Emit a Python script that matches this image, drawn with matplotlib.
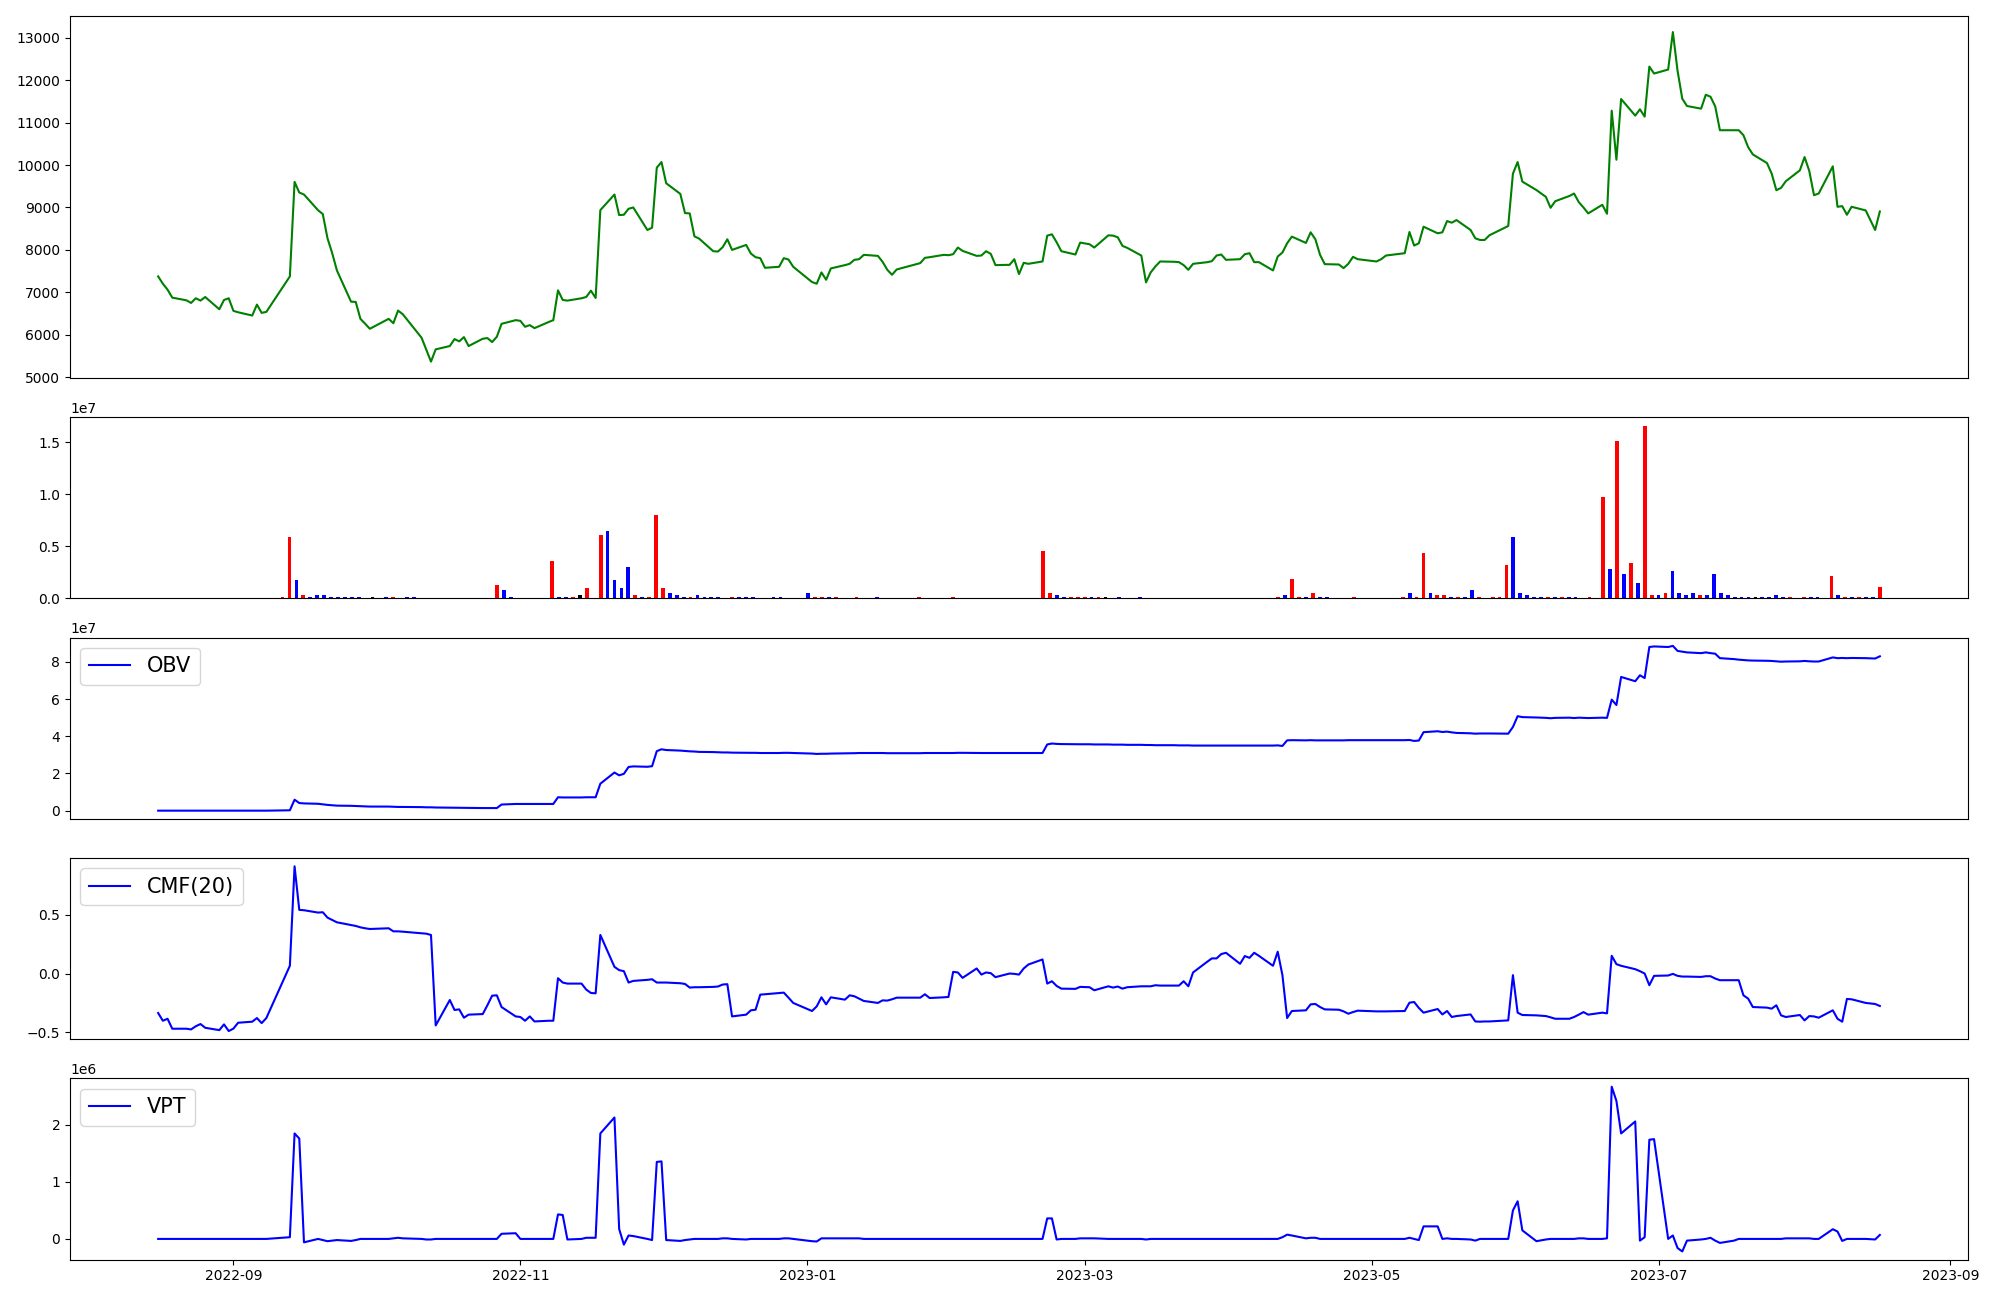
import matplotlib
matplotlib.use("Agg")
import matplotlib.pyplot as plt
import matplotlib.dates as mdates
import numpy as np
import pandas as pd

# trading days (KRX calendar)
holidays = ["2022-09-09", "2022-09-12", "2022-10-03", "2022-10-10", "2022-12-30",
            "2023-01-23", "2023-01-24", "2023-03-01", "2023-05-01", "2023-05-05",
            "2023-05-29", "2023-06-06", "2023-08-15"]
dates = pd.bdate_range("2022-08-16", "2023-08-17")
dates = dates[~dates.isin(pd.to_datetime(holidays))]

# close price, month by month
close_aug22 = [7375, 7203, 7063, 6875, 6812, 6750, 6860, 6805, 6890, 6601, 6820, 6860]
close_sep22 = [6563, 6530, 6453, 6711, 6516, 6539, 7375, 9602, 9352, 9305,
               8934, 8844, 8273, 7922, 7516, 6781, 6773, 6375, 6260, 6141]
close_oct22 = [6375, 6273, 6570, 6484, 5930, 5650, 5367, 5656, 5734, 5898,
               5844, 5945, 5734, 5906, 5922, 5828, 5953, 6258, 6344]
close_nov22 = [6328, 6188, 6227, 6156, 6300, 6344, 7047, 6820, 6805, 6860, 6890,
               7039, 6867, 8937, 9305, 8820, 8828, 8969, 9000, 8469, 8523, 9938]
close_dec22 = [10070, 9570, 9320, 8867, 8860, 8320, 8266, 7969, 7961, 8063, 8250,
               8000, 8117, 7914, 7828, 7805, 7578, 7602, 7805, 7773, 7602]
close_jan23 = [7242, 7203, 7469, 7297, 7563, 7641, 7672, 7766, 7781, 7883,
               7859, 7719, 7531, 7414, 7539, 7688, 7813, 7828, 7883, 7875]
close_feb23 = [7898, 8055, 7977, 7859, 7867, 7969, 7906, 7641, 7648, 7781,
               7430, 7695, 7672, 7727, 8336, 8367, 8180, 7969, 7891, 8172]
close_mar23 = [8133, 8055, 8344, 8336, 8297, 8094, 8048, 7867, 7234, 7469, 7610,
               7727, 7720, 7711, 7641, 7531, 7672, 7710, 7734, 7867, 7891, 7766]
close_apr23 = [7781, 7898, 7922, 7711, 7711, 7516, 7844, 7938, 8156, 8313,
               8164, 8414, 8250, 7883, 7664, 7656, 7570, 7672, 7836, 7781]
close_may23 = [7727, 7781, 7867, 7922, 8422, 8102, 8156, 8547, 8391, 8414,
               8680, 8641, 8703, 8469, 8273, 8234, 8234, 8344, 8563, 9797]
close_jun23 = [10070, 9609, 9410, 9250, 8992, 9148, 9270, 9328, 9125, 9000, 8860,
               9063, 8852, 11281, 10125, 11555, 11164, 11313, 11141, 12320, 12156]
close_jul23 = [12250, 13133, 12219, 11563, 11391, 11328, 11656, 11609, 11383, 10820, 10820,
               10820, 10703, 10422, 10250, 10047, 9800, 9406, 9461, 9617, 9875]
close_aug23 = [10188, 9859, 9289, 9328, 9969, 9016, 9031, 8828, 9016, 8930, 8469, 8906]

# volume (millions) and bar colour codes r/b/k
vol_aug22 = [0] * 12
vol_sep22 = [0, 0, 0, 0, 0, 0, 0.19, 5.93, 1.82, 0.38, 0.19, 0.29, 0.29, 0.19, 0.10,
             0.19, 0.10, 0.10, 0, 0.10]
vol_oct22 = [0, 0.19, 0.19, 0, 0.10, 0.10, 0, 0, 0, 0, 0, 0, 0, 0, 0, 0, 0, 1.34, 0.77]
vol_nov22 = [0.10, 0, 0, 0, 0, 0, 3.64, 0.19, 0.10, 0.10, 0.29, 0.96, 0, 6.13, 6.51,
             1.82, 1.05, 3.06, 0.29, 0.19, 0.19, 8.04]
vol_dec22 = [0.96, 0.48, 0.29, 0.10, 0.19, 0.29, 0.10, 0.10, 0.10, 0, 0.10, 0.10,
             0.19, 0.10, 0, 0, 0.10, 0.10, 0, 0, 0]
vol_jan23 = [0.57, 0.10, 0.19, 0.10, 0.10, 0, 0, 0.19, 0, 0, 0.10, 0, 0, 0, 0, 0,
             0.10, 0, 0, 0]
vol_feb23 = [0, 0.10, 0, 0, 0, 0, 0, 0, 0, 0, 0, 0, 0, 0, 4.59, 0.48, 0.29, 0.10, 0.10, 0.10]
vol_mar23 = [0.10, 0.10, 0.19, 0.19, 0, 0.10, 0, 0, 0.10, 0, 0, 0, 0, 0, 0, 0, 0, 0,
             0, 0, 0, 0]
vol_apr23 = [0, 0, 0, 0, 0, 0, 0.10, 0.29, 1.91, 0.19, 0.10, 0.48, 0.10, 0.10, 0, 0, 0,
             0.10, 0, 0]
vol_may23 = [0, 0, 0, 0, 0.10, 0.48, 0.19, 4.40, 0.57, 0.38, 0.29, 0.19, 0.10, 0.10,
             0.86, 0.10, 0, 0.19, 0.10, 3.25]
vol_jun23 = [5.93, 0.57, 0.29, 0.19, 0.19, 0.19, 0.19, 0.19, 0.19, 0.10, 0, 0.19, 0,
             9.76, 2.87, 15.1, 2.39, 3.45, 1.53, 16.56, 0.38]
vol_jul23 = [0.29, 0.57, 2.68, 0.57, 0.38, 0.57, 0.38, 0.38, 2.39, 0.48, 0.29, 0.19,
             0.19, 0.10, 0.10, 0.19, 0.10, 0.29, 0.19, 0.10, 0]
vol_aug23 = [0.10, 0.10, 0.10, 0, 2.20, 0.38, 0.10, 0.10, 0.10, 0.19, 0.10, 1.15]

col_codes = ("bbbbbbbbbbbb"
             "bbbbbbrrbrbbbbbbbbbk"
             "bbrbbbbbbbbbbbbbbrb"
             "bbbbbbrbbrkrbrbbbbrbrr"
             "rbbbrbbbbbrbbbbbbbbbb"
             "brrbrbbrbbbbbbbbrbbb"
             "brbbbbbbbbbbbbrrbbrr"
             "rbrkbbbbbbbbbbbbbbbbbb"
             "bbbbbbrbrrbrbbbbbrbb"
             "bbbbrbrrbrrbrbbrbrrr"
             "bbbbbrbrbbbrbrbrbrbrr"
             "brbbbbrbbbbbbbkbbbbrb"
             "rbbbrbrbrbbr")

# OBV (millions)
obv_aug22 = [0] * 12
obv_sep22 = [0, 0, 0, 0, 0, 0, 0.2, 5.9, 4.1, 3.9, 3.7, 3.4, 3.1, 2.9, 2.7, 2.6, 2.5,
             2.4, 2.3, 2.2]
obv_oct22 = [2.2, 2.1, 2.0, 2.0, 1.9, 1.8, 1.8, 1.7, 1.6, 1.6, 1.5, 1.5, 1.5, 1.4, 1.4,
             1.4, 1.4, 3.3, 3.6]
obv_nov22 = [3.6, 3.6, 3.6, 3.6, 3.6, 3.6, 7.2, 7.1, 7.1, 7.1, 7.2, 7.2, 7.2, 14.5, 20.5,
             19.0, 19.8, 23.5, 23.8, 23.6, 23.9, 32.0]
obv_dec22 = [33.0, 32.6, 32.3, 32.1, 31.9, 31.8, 31.6, 31.5, 31.4, 31.3, 31.3, 31.2,
             31.1, 31.1, 31.1, 31.0, 31.0, 31.0, 31.1, 31.1, 31.0]
obv_jan23 = [30.7, 30.5, 30.6, 30.6, 30.7, 30.8, 30.8, 30.9, 31.0, 31.0, 31.0, 31.0,
             30.9, 30.9, 30.9, 30.9, 31.0, 31.0, 31.0, 31.0]
obv_feb23 = [31.0, 31.1, 31.1, 31.0, 31.0, 31.0, 31.0, 31.0, 31.0, 31.0, 31.0, 31.0,
             31.0, 31.0, 35.6, 36.1, 35.9, 35.8, 35.7, 35.7]
obv_mar23 = [35.7, 35.6, 35.6, 35.5, 35.5, 35.5, 35.4, 35.4, 35.3, 35.3, 35.2, 35.2,
             35.2, 35.1, 35.1, 35.1, 35.0, 35.0, 35.0, 35.0, 35.0, 35.0]
obv_apr23 = [35.0, 35.0, 35.0, 35.0, 35.0, 35.0, 35.1, 34.8, 37.8, 37.9, 37.8, 37.9,
             37.8, 37.8, 37.8, 37.8, 37.8, 37.9, 37.9, 37.9]
obv_may23 = [37.9, 37.9, 37.9, 37.9, 38.0, 37.5, 37.7, 42.2, 42.7, 42.3, 42.5, 42.1,
             41.8, 41.6, 41.4, 41.5, 41.5, 41.5, 41.4, 45.0]
obv_jun23 = [50.8, 50.3, 50.1, 49.9, 49.7, 49.9, 50.0, 49.8, 50.0, 49.9, 49.8, 50.0,
             49.9, 59.7, 56.8, 71.9, 69.6, 72.8, 71.3, 88.0, 88.3]
obv_jul23 = [88.0, 88.6, 85.9, 85.5, 85.1, 84.7, 85.1, 84.7, 84.4, 82.0, 81.5, 81.2,
             81.0, 80.8, 80.7, 80.6, 80.5, 80.3, 80.1, 80.2, 80.3]
obv_aug23 = [80.5, 80.3, 80.2, 80.2, 82.4, 82.0, 82.1, 82.0, 82.1, 82.0, 81.8, 83.0]

# CMF(20)
cmf_aug22 = [-0.337, -0.403, -0.386, -0.471, -0.471, -0.477, -0.45, -0.431, -0.463,
             -0.483, -0.434, -0.491]
cmf_sep22 = [-0.47, -0.42, -0.411, -0.38, -0.423, -0.38, 0.066, 0.915, 0.543, 0.54,
             0.52, 0.523, 0.477, 0.457, 0.437, 0.414, 0.406, 0.394, 0.386, 0.38]
cmf_oct22 = [0.386, 0.36, 0.36, 0.357, 0.343, 0.34, 0.329, -0.443, -0.226, -0.311,
             -0.306, -0.377, -0.351, -0.346, -0.27, -0.189, -0.186, -0.286, -0.366]
cmf_nov22 = [-0.371, -0.403, -0.366, -0.409, -0.403, -0.403, -0.04, -0.077, -0.086,
             -0.086, -0.137, -0.166, -0.169, 0.329, 0.057, 0.029, 0.02, -0.077, -0.063,
             -0.054, -0.049, -0.077]
cmf_dec22 = [-0.077, -0.077, -0.083, -0.089, -0.12, -0.117, -0.117, -0.114, -0.111,
             -0.094, -0.091, -0.366, -0.351, -0.314, -0.309, -0.18, -0.177, -0.166,
             -0.163, -0.206, -0.251]
cmf_jan23 = [-0.32, -0.28, -0.203, -0.263, -0.203, -0.223, -0.186, -0.194, -0.214,
             -0.234, -0.251, -0.229, -0.231, -0.22, -0.206, -0.206, -0.177, -0.209,
             -0.203, -0.2]
cmf_feb23 = [0.014, 0.009, -0.037, 0.043, -0.009, 0.009, 0.003, -0.031, 0.0, -0.003,
             -0.009, 0.043, 0.077, 0.12, -0.086, -0.066, -0.106, -0.129, -0.131, -0.114]
cmf_mar23 = [-0.117, -0.143, -0.109, -0.12, -0.111, -0.129, -0.117, -0.109, -0.109,
             -0.109, -0.1, -0.103, -0.103, -0.103, -0.066, -0.109, 0.009, 0.1, 0.129,
             0.129, 0.166, 0.177]
cmf_apr23 = [0.083, 0.149, 0.134, 0.177, 0.151, 0.066, 0.186, -0.014, -0.38, -0.32,
             -0.314, -0.263, -0.26, -0.286, -0.306, -0.309, -0.323, -0.343, -0.329, -0.317]
cmf_may23 = [-0.323, -0.323, -0.323, -0.32, -0.249, -0.243, -0.294, -0.334, -0.303,
             -0.349, -0.32, -0.371, -0.363, -0.349, -0.409, -0.411, -0.409, -0.409,
             -0.4, -0.014]
cmf_jun23 = [-0.334, -0.354, -0.357, -0.363, -0.374, -0.386, -0.386, -0.371, -0.351,
             -0.329, -0.351, -0.334, -0.34, 0.151, 0.08, 0.066, 0.037, 0.02, 0.0, -0.1, -0.02]
cmf_jul23 = [-0.017, -0.003, -0.02, -0.026, -0.026, -0.029, -0.023, -0.023, -0.043,
             -0.057, -0.057, -0.057, -0.186, -0.214, -0.286, -0.291, -0.3, -0.271,
             -0.357, -0.371, -0.354]
cmf_aug23 = [-0.4, -0.363, -0.366, -0.377, -0.314, -0.386, -0.411, -0.217, -0.22,
             -0.251, -0.26, -0.277]

# VPT (millions)
vpt_aug22 = [0] * 12
vpt_sep22 = [0, 0, 0, 0, 0, 0, 0.03, 1.85, 1.76, -0.06, 0.0, -0.02, -0.04, -0.03, -0.02,
             -0.035, -0.02, 0.0, 0.0, 0.0]
vpt_oct22 = [0.0, 0.01, 0.02, 0.01, 0.0, -0.01, -0.01, 0.0, 0.0, 0.0, 0.0, 0.0, 0.0,
             0.0, 0.0, 0.0, 0.0, 0.09, 0.1]
vpt_nov22 = [0.0, 0.0, 0.0, 0.0, 0.0, 0.0, 0.43, 0.42, -0.01, 0.0, 0.02, 0.02, 0.02,
             1.85, 2.13, 0.175, -0.1, 0.06, 0.05, 0.0, -0.02, 1.35]
vpt_dec22 = [1.36, -0.02, -0.035, -0.02, -0.01, 0.0, 0.0, 0.0, 0.0, 0.01, 0.01, 0.0,
             -0.01, 0.0, 0.0, 0.0, 0.0, 0.0, 0.01, 0.01, 0.0]
vpt_jan23 = [-0.04, -0.045, 0.01, 0.01, 0.01, 0.01, 0.01, 0.01, 0.01, 0.0, 0.0, 0.0,
             0.0, 0.0, 0.0, 0.0, 0.0, 0.0, 0.0, 0.0]
vpt_feb23 = [0, 0, 0, 0, 0, 0, 0, 0, 0, 0, 0, 0, 0, 0, 0.36, 0.36, -0.01, 0.0, 0.0, 0.01]
vpt_mar23 = [0.01, 0.01, 0.0, 0.0, 0.0, 0.0, 0.0, 0.0, -0.01, 0.0, 0.0, 0.0, 0.0, 0.0,
             0.0, 0.0, 0.0, 0.0, 0.0, 0.0, 0.0, 0.0]
vpt_apr23 = [0, 0, 0, 0, 0, 0, 0, 0.03, 0.075, 0.06, 0.01, 0.02, 0.02, 0.0, 0, 0, 0, 0, 0, 0]
vpt_may23 = [0.0, 0.0, 0.0, 0.0, 0.02, 0.0, -0.02, 0.22, 0.22, 0.0, 0.01, 0.0, 0.0,
             -0.01, -0.03, 0.0, 0.0, 0.0, 0.0, 0.5]
vpt_jun23 = [0.66, 0.15, -0.04, -0.01, 0.0, 0.0, 0.0, 0.0, 0.01, 0.01, 0.0, 0.0, 0.01,
             2.67, 2.42, 1.85, 2.06, -0.03, 0.03, 1.74, 1.75]
vpt_jul23 = [0.0, 0.06, -0.16, -0.22, -0.03, -0.01, 0.0, 0.02, -0.03, -0.07, -0.03, 0.0,
             0.0, 0.0, 0.0, 0.0, 0.0, 0.0, 0.0, 0.01, 0.01]
vpt_aug23 = [0.01, 0.01, 0.0, 0.0, 0.17, 0.13, -0.035, 0.0, 0.0, 0.0, -0.01, 0.07]

close = (close_aug22 + close_sep22 + close_oct22 + close_nov22 + close_dec22 + close_jan23
         + close_feb23 + close_mar23 + close_apr23 + close_may23 + close_jun23
         + close_jul23 + close_aug23)
volume = np.array(vol_aug22 + vol_sep22 + vol_oct22 + vol_nov22 + vol_dec22 + vol_jan23
                  + vol_feb23 + vol_mar23 + vol_apr23 + vol_may23 + vol_jun23
                  + vol_jul23 + vol_aug23) * 1e6
obv = np.array(obv_aug22 + obv_sep22 + obv_oct22 + obv_nov22 + obv_dec22 + obv_jan23
               + obv_feb23 + obv_mar23 + obv_apr23 + obv_may23 + obv_jun23
               + obv_jul23 + obv_aug23) * 1e6
cmf = (cmf_aug22 + cmf_sep22 + cmf_oct22 + cmf_nov22 + cmf_dec22 + cmf_jan23 + cmf_feb23
       + cmf_mar23 + cmf_apr23 + cmf_may23 + cmf_jun23 + cmf_jul23 + cmf_aug23)
vpt = np.array(vpt_aug22 + vpt_sep22 + vpt_oct22 + vpt_nov22 + vpt_dec22 + vpt_jan23
               + vpt_feb23 + vpt_mar23 + vpt_apr23 + vpt_may23 + vpt_jun23
               + vpt_jul23 + vpt_aug23) * 1e6

cmap = {"r": "red", "b": "blue", "k": "black"}
bar_colors = [cmap[c] for c in col_codes]

n = len(dates)

fig = plt.figure(figsize=(20, 13), dpi=100)
gs = fig.add_gridspec(5, 1, height_ratios=[2, 1, 1, 1, 1], left=0.035, right=0.984,
                      top=0.988, bottom=0.031, hspace=0.18)
axs = gs.subplots(sharex=True)

axs[0].plot(dates, close, color="green")

# volume bars are spread evenly over the date span
xnum = mdates.date2num(dates)
xbar = np.linspace(xnum[0], xnum[-1], n)
axs[1].bar(xbar, volume, width=0.8, color=bar_colors)

axs[2].plot(dates, obv, color="blue", label="OBV")
axs[2].legend(loc="upper left", fontsize=15)

axs[3].plot(dates, cmf, color="blue", label="CMF(20)")
axs[3].legend(loc="upper left", fontsize=15)

axs[4].plot(dates, vpt, color="blue", label="VPT")
axs[4].legend(loc="upper left", fontsize=15)

axs[4].xaxis.set_major_locator(mdates.MonthLocator(bymonth=[1, 3, 5, 7, 9, 11]))
axs[4].xaxis.set_major_formatter(mdates.DateFormatter("%Y-%m"))

for ax in axs[:4]:
    ax.tick_params(axis="x", bottom=False)

fig.savefig("out.png", dpi=100)
